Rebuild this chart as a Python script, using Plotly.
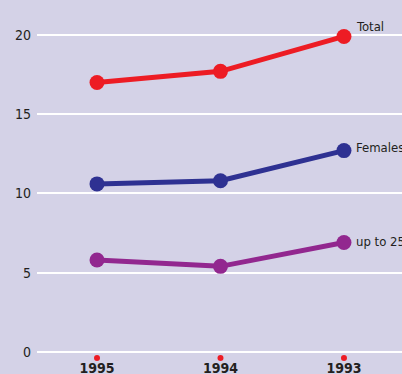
import plotly.graph_objects as go

years = ["1995", "1994", "1993"]
total = [17.0, 17.7, 19.9]
females = [10.6, 10.8, 12.7]
upto25 = [5.8, 5.4, 6.9]
series_names = ["Total", "Females", "up to 25"]
y_ticks = [0, 5, 10, 15, 20]

colors = ["#ed1c24", "#2e3192", "#92278f"]
BG = "#d4d2e7"
FONT = "DejaVu Sans Condensed, Liberation Sans Narrow, Liberation Sans, Arial"

fig = go.Figure()
xs = [0, 1, 2]
for name, vals, col in zip(series_names, [total, females, upto25], colors):
    fig.add_trace(go.Scatter(
        x=xs, y=vals, mode="lines+markers", name=name,
        line=dict(color=col, width=5),
        marker=dict(color=col, size=15),
        cliponaxis=False, showlegend=False,
    ))

# year labels with red dots below the axis
fig.add_trace(go.Scatter(
    x=xs, y=[-0.38] * 3, mode="markers", marker=dict(color="#ed1c24", size=6),
    cliponaxis=False, showlegend=False,
))
fig.add_trace(go.Scatter(
    x=xs, y=[-1.12] * 3, mode="text", text=["<b>%s</b>" % y for y in years],
    textfont=dict(family=FONT, size=14, color="#231f20"),
    cliponaxis=False, showlegend=False,
))

label_shift = [10, 3, 1]
for name, vals, sh in zip(series_names, [total, females, upto25], label_shift):
    fig.add_annotation(
        x=2, y=vals[-1], text=name, showarrow=False,
        xanchor="left", yanchor="middle", xshift=10, yshift=sh,
        font=dict(family=FONT, size=13, color="#231f20"),
    )

fig.update_layout(
    width=402, height=374,
    margin=dict(l=37, r=0, t=0, b=0),
    paper_bgcolor=BG, plot_bgcolor=BG,
    xaxis=dict(range=[-0.486, 2.47], showgrid=False, zeroline=False,
               showticklabels=False, fixedrange=True),
    yaxis=dict(range=[-1.39, 22.2], tickvals=y_ticks, showgrid=True,
               gridcolor="white", gridwidth=2, zeroline=False,
               tickfont=dict(family=FONT, size=14, color="#231f20"),
               ticks="", ticklabelstandoff=5),
    font=dict(family=FONT),
    hovermode=False,
)

fig.write_html(
    "out.html",
    config={"displayModeBar": False, "staticPlot": True},
    post_script="document.body.style.margin='0';document.body.style.overflow='hidden';"
                "document.body.style.background='%s';" % BG,
)
